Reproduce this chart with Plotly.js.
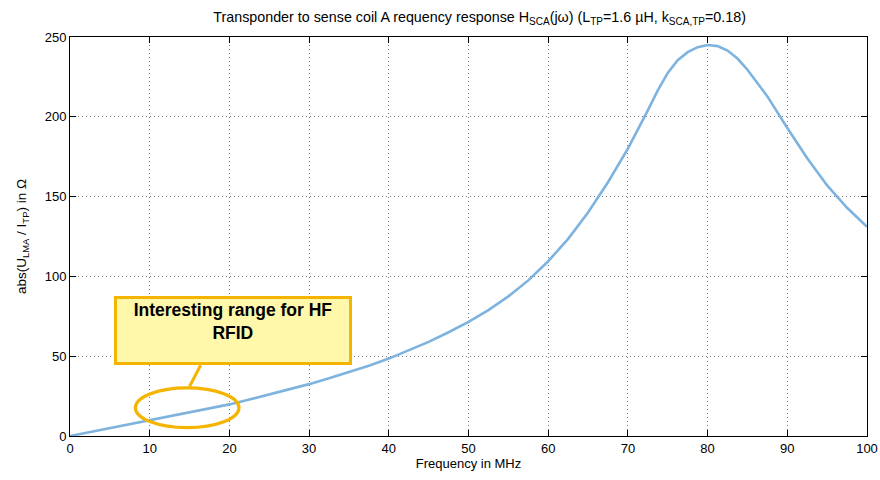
<!DOCTYPE html>
<html>
<head>
<meta charset="utf-8">
<script src="https://cdn.plot.ly/plotly-3.0.1.min.js"></script>
<style>html,body{margin:0;padding:0;background:#fff;}#chart{width:880px;height:480px;}</style>
</head>
<body>
<div id="chart"></div>
<script>
var freqMHz = [0, 2.5, 5, 7.5, 10, 12.5, 15, 17.5, 20, 22.5, 25, 27.5, 30, 32.5, 35, 37.5, 40, 42.5, 45, 47.5, 50, 52.5, 55, 57.5, 60, 62.5, 65, 67.5, 70, 72.5, 73.75, 75, 76.25, 77.5, 78.75, 80, 81.25, 82.5, 83.75, 85, 86.25, 87.5, 90, 92.5, 95, 97.5, 100];
var impedance = [0, 2.5, 5, 7.5, 10, 12.4, 14.8, 17.3, 19.8, 22.8, 26, 29.2, 32.5, 36.2, 40, 44, 48.5, 53.5, 59, 65, 71.5, 78.9, 87.5, 97.5, 109.5, 123.5, 140, 159, 180, 204, 216.5, 227.5, 235.5, 240.5, 243.6, 245, 244.3, 241.5, 236.5, 229.5, 221.5, 212.8, 193, 174, 157, 143, 131];
var xTicks = [0, 10, 20, 30, 40, 50, 60, 70, 80, 90, 100];
var yTicks = [0, 50, 100, 150, 200, 250];
var noteText = "<b>Interesting range for HF<br>RFID</b>";

var FONT = 'Liberation Sans, Arial, sans-serif';

var trace = {
  x: freqMHz, y: impedance, type: 'scatter', mode: 'lines',
  line: {color: '#7db3de', width: 2.6, shape: 'linear'},
  hoverinfo: 'none'
};

var axisCommon = {
  showline: true, linecolor: '#000', linewidth: 1, mirror: 'ticks',
  ticks: 'inside', ticklen: 6, tickcolor: '#000', tickwidth: 1,
  showgrid: true, gridcolor: '#777', griddash: '1px,3px', gridwidth: 1,
  zeroline: false,
  tickfont: {family: FONT, size: 13, color: '#000'}
};

var layout = {
  width: 880, height: 480,
  margin: {l: 70, r: 13, t: 37, b: 44},
  paper_bgcolor: '#fff', plot_bgcolor: '#fff',
  showlegend: false,
  title: {
    text: 'Transponder to sense coil A requency response H<sub>SCA</sub>(jω) (L<sub>TP</sub>=1.6 µH, k<sub>SCA,TP</sub>=0.18)',
    font: {family: FONT, size: 14.3, color: '#000'},
    x: 0.545, xanchor: 'center', y: 0.965, yanchor: 'middle'
  },
  xaxis: Object.assign({}, axisCommon, {
    range: [0, 100], tickvals: xTicks, ticktext: xTicks.map(String),
    title: {text: 'Frequency in MHz', standoff: 4, font: {family: FONT, size: 13, color: '#000'}}
  }),
  yaxis: Object.assign({}, axisCommon, {
    range: [0, 250], tickvals: yTicks, ticktext: yTicks.map(String),
    title: {text: 'abs(U<sub>LMA</sub> / I<sub>TP</sub>) in Ω', standoff: 14, font: {family: FONT, size: 13.5, color: '#000'}}
  }),
  shapes: [
    {type: 'line', xref: 'x', yref: 'y', x0: 15, y0: 31, x1: 16.4, y1: 44.5,
     line: {color: '#f5b400', width: 3}},
    {type: 'circle', xref: 'x', yref: 'y', x0: 8.2, x1: 21.2, y0: 5.2, y1: 30.2,
     line: {color: '#f5b400', width: 3.2}, fillcolor: 'rgba(0,0,0,0)'}
  ],
  annotations: [
    {xref: 'x', yref: 'y', x: 20.4, y: 66.1, xanchor: 'center', yanchor: 'middle',
     text: noteText, showarrow: false, width: 230, height: 61, valign: 'top', align: 'center',
     bgcolor: '#fff7aa', bordercolor: '#f5b400', borderwidth: 3, borderpad: 1,
     font: {family: FONT, size: 17.5, color: '#000'}}
  ]
};

Plotly.newPlot('chart', [trace], layout, {displayModeBar: false, staticPlot: true});
</script>
</body>
</html>
